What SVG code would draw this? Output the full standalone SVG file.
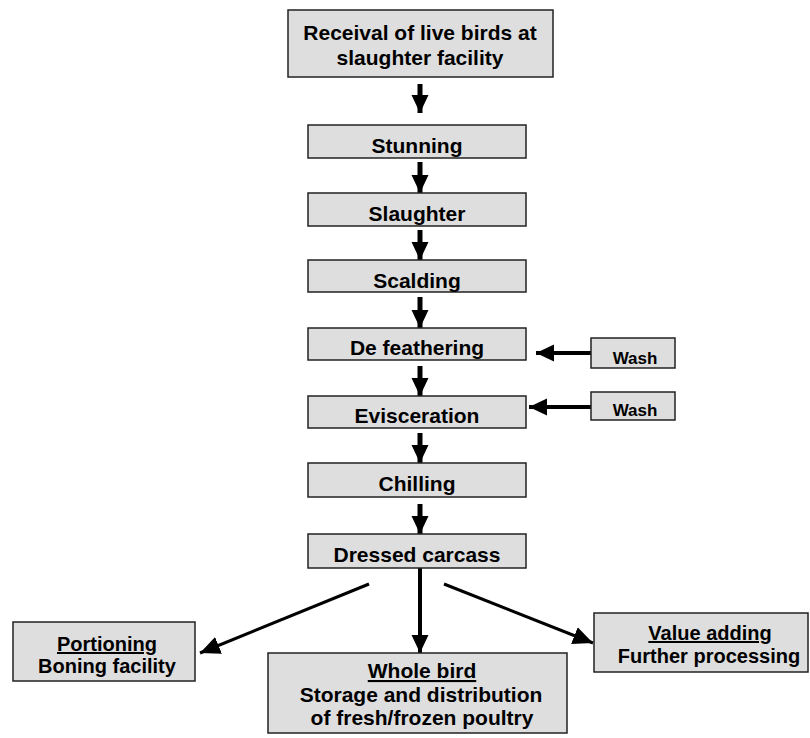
<svg xmlns="http://www.w3.org/2000/svg" width="810" height="738" viewBox="0 0 810 738">
<defs>
<style>
.box{fill:#dedede;stroke:#222;stroke-width:1.5}
.t{font-family:"Liberation Sans",Arial,sans-serif;font-weight:bold;font-size:21px;fill:#000;text-anchor:middle}
.w{font-size:17px}
.s{font-size:20px}
.u{text-decoration:underline}
.c{stroke:#000;fill:none}
</style>
<marker id="ah" markerUnits="userSpaceOnUse" markerWidth="20" markerHeight="20" viewBox="0 0 20 20" refX="20" refY="10" orient="auto">
<path d="M0,1 L20,10 L0,19 Z" fill="#000"/>
</marker>
<marker id="ahs" markerUnits="userSpaceOnUse" markerWidth="18" markerHeight="18" viewBox="0 0 18 18" refX="18" refY="9" orient="auto">
<path d="M0,0.5 L18,9 L0,17.5 Z" fill="#000"/>
</marker>
</defs>
<rect width="810" height="738" fill="#fff"/>
<g id="connectors">
<line class="c" x1="420" y1="84" x2="420" y2="113" stroke-width="5" marker-end="url(#ahs)"/>
<line class="c" x1="420" y1="162" x2="420" y2="193" stroke-width="5" marker-end="url(#ahs)"/>
<line class="c" x1="420" y1="230" x2="420" y2="260" stroke-width="5" marker-end="url(#ahs)"/>
<line class="c" x1="420" y1="297" x2="420" y2="328" stroke-width="5" marker-end="url(#ahs)"/>
<line class="c" x1="420" y1="366" x2="420" y2="396" stroke-width="5" marker-end="url(#ahs)"/>
<line class="c" x1="420" y1="433" x2="420" y2="463" stroke-width="5" marker-end="url(#ahs)"/>
<line class="c" x1="420" y1="504" x2="420" y2="534" stroke-width="5" marker-end="url(#ahs)"/>
<line class="c" x1="592" y1="353" x2="536" y2="353" stroke-width="4" marker-end="url(#ahs)"/>
<line class="c" x1="592" y1="407" x2="529" y2="407" stroke-width="4" marker-end="url(#ahs)"/>
<line class="c" x1="420" y1="568" x2="420" y2="653" stroke-width="4" marker-end="url(#ahs)"/>
<line class="c" x1="369" y1="584" x2="200" y2="653" stroke-width="3" marker-end="url(#ah)"/>
<line class="c" x1="444" y1="584" x2="593" y2="643" stroke-width="3" marker-end="url(#ah)"/>
</g>
<g id="receival">
<rect class="box" x="288" y="10" width="265" height="67"/>
<text class="t" x="420" y="40">Receival of live birds at</text>
<text class="t" x="420" y="65">slaughter facility</text>
</g>
<g id="stunning">
<rect class="box" x="308" y="125" width="218" height="33"/>
<text class="t" x="417" y="153">Stunning</text>
</g>
<g id="slaughter">
<rect class="box" x="308" y="193" width="218" height="33"/>
<text class="t" x="417" y="221">Slaughter</text>
</g>
<g id="scalding">
<rect class="box" x="308" y="260" width="218" height="32"/>
<text class="t" x="417" y="288">Scalding</text>
</g>
<g id="defeathering">
<rect class="box" x="308" y="328" width="218" height="32"/>
<text class="t" x="417" y="355">De feathering</text>
</g>
<g id="evisceration">
<rect class="box" x="308" y="396" width="218" height="32"/>
<text class="t" x="417" y="423">Evisceration</text>
</g>
<g id="chilling">
<rect class="box" x="308" y="463" width="218" height="34"/>
<text class="t" x="417" y="491">Chilling</text>
</g>
<g id="dressed">
<rect class="box" x="308" y="534" width="218" height="34"/>
<text class="t" x="417" y="562">Dressed carcass</text>
</g>
<g id="wash1">
<rect class="box" x="591" y="338" width="84" height="30"/>
<text class="t w" x="635" y="364">Wash</text>
</g>
<g id="wash2">
<rect class="box" x="591" y="392" width="84" height="28"/>
<text class="t w" x="635" y="416">Wash</text>
</g>
<g id="portioning">
<rect class="box" x="13" y="622" width="182" height="59"/>
<text class="t s u" x="107" y="651">Portioning</text>
<text class="t s" x="107" y="673">Boning facility</text>
</g>
<g id="wholebird">
<rect class="box" x="268" y="653" width="299" height="80"/>
<text class="t u" x="422" y="678">Whole bird</text>
<text class="t" x="421" y="702">Storage and distribution</text>
<text class="t" x="422" y="725">of fresh/frozen poultry</text>
</g>
<g id="valueadding">
<rect class="box" x="594" y="613" width="214" height="59"/>
<text class="t s u" x="710" y="640">Value adding</text>
<text class="t s" x="709" y="663">Further processing</text>
</g>
</svg>
